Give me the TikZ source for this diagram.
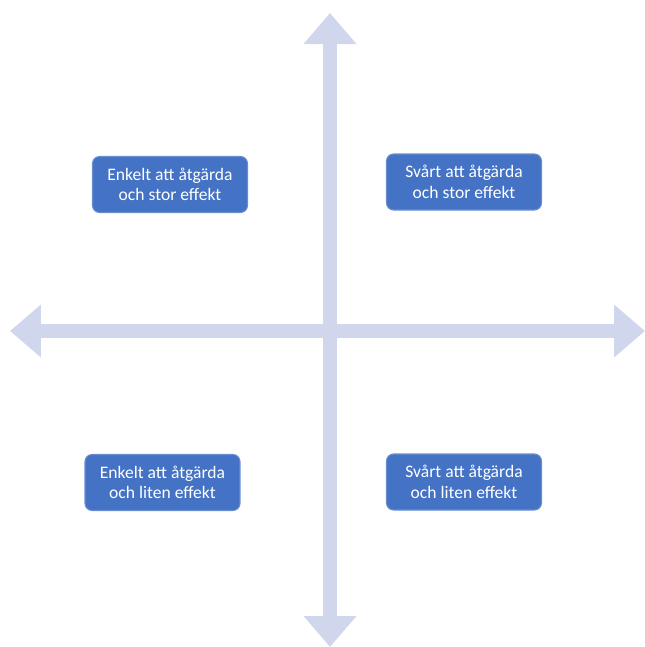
\documentclass[tikz,border=0pt]{standalone}
\usepackage{fontspec}
\setmainfont{Carlito}
\usetikzlibrary{arrows.meta}
\definecolor{cbox}{HTML}{4472C4}
\definecolor{caxis}{HTML}{D0D6EB}
\tikzset{
  quad/.style={fill=cbox, draw=cbox!80!white, line width=0.6pt, text=white, rounded corners=4pt, align=center,
    minimum width=3.1cm, minimum height=1.12cm, inner sep=0pt, font=\fontsize{10}{11.6}\selectfont},
  axis/.style={{Triangle[length=0.62cm, width=1.02cm]}-{Triangle[length=0.62cm, width=1.02cm]}, draw=caxis, line width=0.27cm},
}

\begin{document}
\begin{tikzpicture}[x=0.02cm, y=-0.02cm]
  \useasboundingbox (0,0) rectangle (645,647);
  % the two axes
  \coordinate (north) at (330,13);
  \coordinate (south) at (330,647);
  \coordinate (west) at (10,331);
  \coordinate (east) at (645,331);
  \draw[axis] (south) -- (north);
  \draw[axis] (west) -- (east);
  % the four quadrants
  \node[quad] (easybig) at (170,184.5) {Enkelt att åtgärda\\och stor effekt};
  \node[quad] (hardbig) at (464,182) {Svårt att åtgärda\\och stor effekt};
  \node[quad] (easysmall) at (162.5,482.5) {Enkelt att åtgärda\\och liten effekt};
  \node[quad] (hardsmall) at (464,482) {Svårt att åtgärda\\och liten effekt};
\end{tikzpicture}
\end{document}
